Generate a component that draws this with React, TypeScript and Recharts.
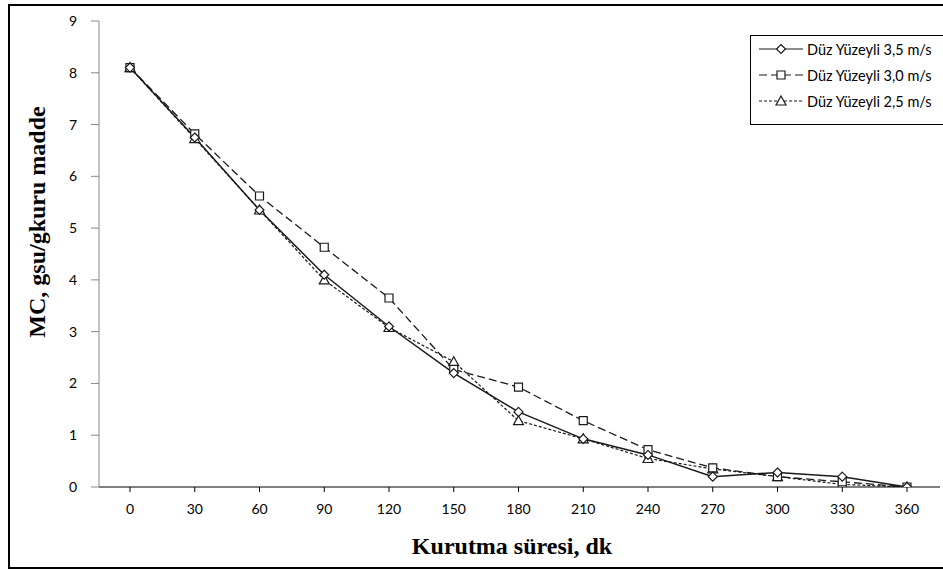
import React from "react";
import { LineChart, Line, XAxis, YAxis } from "recharts";

const times = ["0", "30", "60", "90", "120", "150", "180", "210", "240", "270", "300", "330", "360"];
const mc35 = [8.1, 6.75, 5.35, 4.1, 3.1, 2.2, 1.45, 0.93, 0.62, 0.2, 0.28, 0.2, 0.0];
const mc30 = [8.1, 6.82, 5.62, 4.63, 3.65, 2.27, 1.93, 1.28, 0.72, 0.37, 0.2, 0.1, 0.0];
const mc25 = [8.1, 6.73, 5.35, 4.0, 3.08, 2.42, 1.28, 0.93, 0.55, 0.35, 0.2, 0.05, 0.0];
const yTicks = [0, 1, 2, 3, 4, 5, 6, 7, 8, 9];
const seriesNames = ["Düz Yüzeyli 3,5 m/s", "Düz Yüzeyli 3,0 m/s", "Düz Yüzeyli 2,5 m/s"];

const data = times.map((t, i) => ({ t, a: mc35[i], b: mc30[i], c: mc25[i] }));

const INK = "#1a1a1a";
const TICK_FONT = "Lato, 'Open Sans', sans-serif";

function shapePath(kind: string, cx: number, cy: number) {
  if (kind === "diamond") {
    const r = 4.5;
    return `M${cx},${cy - r}L${cx + r},${cy}L${cx},${cy + r}L${cx - r},${cy}Z`;
  }
  if (kind === "square") {
    const r = 4;
    return `M${cx - r},${cy - r}H${cx + r}V${cy + r}H${cx - r}Z`;
  }
  const r = 5;
  return `M${cx},${cy - r}L${cx + r},${cy + r * 0.8}L${cx - r},${cy + r * 0.8}Z`;
}

const makeDot = (kind: string) => (props: any) => {
  const { cx, cy, index } = props;
  if (cx == null || cy == null) return <g key={`${kind}-${index}`} />;
  return (
    <path
      key={`${kind}-${index}`}
      d={shapePath(kind, cx, cy)}
      fill="#fff"
      stroke={INK}
      strokeWidth={1.2}
    />
  );
};

const YTitle = () => (
  <text
    x={37}
    y={222}
    transform="rotate(-90 37 222)"
    textAnchor="middle"
    dominantBaseline="central"
    fontFamily="'Liberation Serif', 'Times New Roman', serif"
    fontWeight="bold"
    fontSize={24}
    fill="#000"
  >
    MC, gsu/gkuru madde
  </text>
);

const XTitle = () => (
  <text
    x={512}
    y={546}
    textAnchor="middle"
    dominantBaseline="central"
    fontFamily="'Liberation Serif', 'Times New Roman', serif"
    fontWeight="bold"
    fontSize={24}
    fill="#000"
  >
    Kurutma süresi, dk
  </text>
);

const legendItems = [
  { name: seriesNames[0], kind: "diamond", dash: undefined as string | undefined },
  { name: seriesNames[1], kind: "square", dash: "8 4" },
  { name: seriesNames[2], kind: "triangle", dash: "3 2" },
];

const LegendBox = () => (
  <div
    style={{
      position: "absolute",
      left: 750,
      top: 35,
      border: "1px solid #000",
      background: "#fff",
      width: 200,
      height: 90,
      boxSizing: "border-box",
      paddingTop: 0,
    }}
  >
    {legendItems.map((it) => (
      <div key={it.name} style={{ display: "flex", alignItems: "center", height: 26 }}>
        <svg width={50} height={14} style={{ marginLeft: 6 }}>
          <line x1={2} y1={7} x2={46} y2={7} stroke={INK} strokeWidth={1.2} strokeDasharray={it.dash} />
          <path d={shapePath(it.kind, 24, 7)} fill="#fff" stroke={INK} strokeWidth={1.2} />
        </svg>
        <span style={{ fontFamily: TICK_FONT, fontSize: 14.5, color: "#000", whiteSpace: "nowrap" }}>{it.name}</span>
      </div>
    ))}
  </div>
);

export default function App() {
  return (
    <div style={{ position: "absolute", left: 0, top: 0, width: 943, height: 570, overflow: "hidden", background: "#fff" }}>
      <div
        style={{
          position: "absolute",
          left: 8,
          top: 4,
          width: 945,
          height: 565,
          border: "2px solid #000",
          boxSizing: "border-box",
        }}
      />
      <div style={{ position: "absolute", left: 0, top: 0 }}>
        <LineChart width={943} height={570} data={data} margin={{ top: 21, right: 3, bottom: 53, left: 0 }}>
          <XAxis
            dataKey="t"
            height={30}
            padding={{ left: 31, right: 33 }}
            axisLine={{ stroke: "#000", strokeWidth: 1 }}
            tickLine={{ stroke: "#000" }}
            tickSize={5}
            tickMargin={12}
            tick={{ fontFamily: TICK_FONT, fontSize: 14, fill: "#000" }}
            interval={0}
            label={<XTitle />}
          />
          <YAxis
            width={99}
            domain={[0, 9]}
            ticks={yTicks}
            allowDataOverflow
            axisLine={{ stroke: "#888" }}
            tickLine={{ stroke: "#888" }}
            tickSize={8}
            tickMargin={14}
            tick={{ fontFamily: TICK_FONT, fontSize: 14, fill: "#000" }}
            label={<YTitle />}
          />
          <Line
            dataKey="c"
            name={seriesNames[2]}
            stroke={INK}
            strokeWidth={1.2}
            strokeDasharray="3 2"
            dot={makeDot("triangle")}
            activeDot={false}
            isAnimationActive={false}
          />
          <Line
            dataKey="b"
            name={seriesNames[1]}
            stroke={INK}
            strokeWidth={1.3}
            strokeDasharray="8 4"
            dot={makeDot("square")}
            activeDot={false}
            isAnimationActive={false}
          />
          <Line
            dataKey="a"
            name={seriesNames[0]}
            stroke={INK}
            strokeWidth={1.5}
            dot={makeDot("diamond")}
            activeDot={false}
            isAnimationActive={false}
          />
        </LineChart>
      </div>
      <LegendBox />
    </div>
  );
}
